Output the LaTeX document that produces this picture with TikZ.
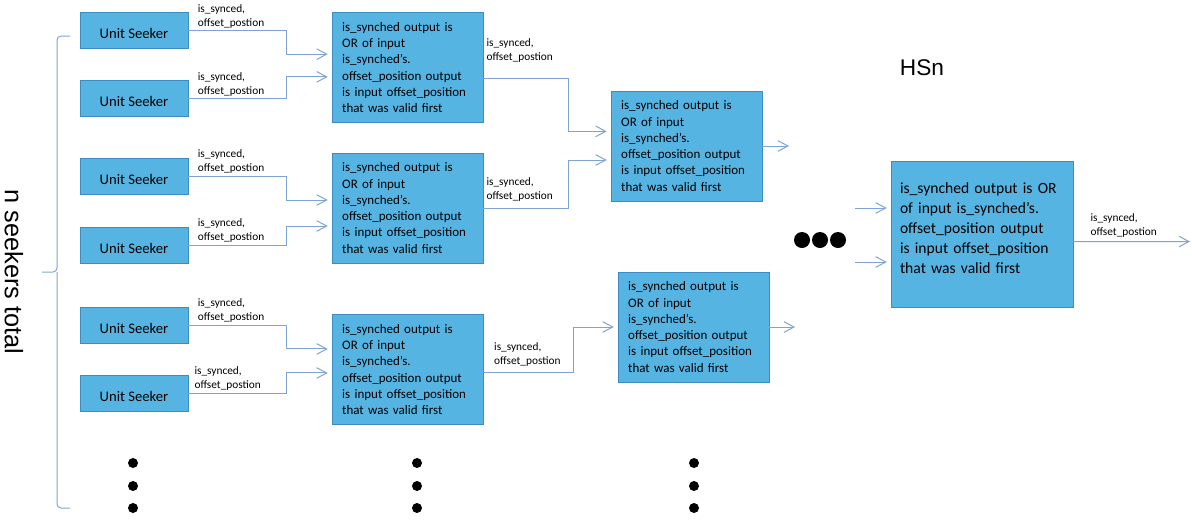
\documentclass[tikz,border=0pt]{standalone}
\usepackage{fontspec}
\setmainfont{Carlito}
\newfontfamily\arialfont{Liberation Sans}
\usetikzlibrary{arrows.meta,positioning,calc}
\definecolor{seekfill}{RGB}{86,180,227}
\definecolor{seekdraw}{RGB}{60,140,192}
\definecolor{wireblue}{RGB}{128,163,214}
\tikzset{
  unitbox/.style={draw=seekdraw, fill=seekfill, minimum width=81pt, minimum height=27pt, inner sep=0pt, text height=12pt, text depth=0pt, font=\fontsize{11}{13}\selectfont},
  orbox/.style={draw=seekdraw, fill=seekfill, minimum width=113.25pt, minimum height=82.5pt, align=left, text width=98pt, inner xsep=7.5pt, font=\fontsize{9.75}{12.2}\selectfont},
  bigbox/.style={draw=seekdraw, fill=seekfill, minimum width=136.5pt, minimum height=109.5pt, align=left, text width=123pt, inner xsep=6.75pt, font=\fontsize{11.7}{15}\selectfont},
  siglabel/.style={align=left, inner sep=0pt, font=\fontsize{8.5}{10.5}\selectfont},
  wire/.style={draw=wireblue, line width=0.75pt, -{Straight Barb[length=7.5pt,width=8pt]}, shorten >=3pt},
  bracewire/.style={draw=wireblue, line width=0.75pt, rounded corners=3pt}
}
\begin{document}
\begin{tikzpicture}[x=0.75pt, y=-0.75pt]
\useasboundingbox (0,0) rectangle (1192,519);
% seekers
\node[unitbox] (us1) at (134,30.5) {Unit Seeker};
\node[unitbox] (us2) at (134,98.5) {Unit Seeker};
\node[unitbox] (us3) at (134,176) {Unit Seeker};
\node[unitbox] (us4) at (134,245) {Unit Seeker};
\node[unitbox] (us5) at (134,325) {Unit Seeker};
\node[unitbox] (us6) at (134,393) {Unit Seeker};
% first stage
\node[orbox] (b1) at (407.5,67.5) {is\_synched output is\\OR of input\\is\_synched's.\\offset\_position output\\is input offset\_position\\that was valid first};
\node[orbox] (b2) at (407.5,208) {is\_synched output is\\OR of input\\is\_synched's.\\offset\_position output\\is input offset\_position\\that was valid first};
\node[orbox] (b3) at (407.5,369.5) {is\_synched output is\\OR of input\\is\_synched's.\\offset\_position output\\is input offset\_position\\that was valid first};
% second stage
\node[orbox] (c1) at (686.5,146) {is\_synched output is\\OR of input\\is\_synched's.\\offset\_position output\\is input offset\_position\\that was valid first};
\node[orbox] (c2) at (693.5,327) {is\_synched output is\\OR of input\\is\_synched's.\\offset\_position output\\is input offset\_position\\that was valid first};
% last stage
\node[bigbox] (hs) at (982,234.5) {is\_synched output is OR\\of input is\_synched's.\\offset\_position output\\is input offset\_position\\that was valid first\\[-6pt]\mbox{}};
\node[font=\arialfont\fontsize{17}{20}\selectfont] (hsname) at (922,68) {HSn};
\node[rotate=-90, font=\arialfont\fontsize{19}{22}\selectfont] (ntotal) at (14,272) {n seekers total};
\coordinate (c1out) at (793,146);
\coordinate (c2out) at (799,327);
\coordinate (din1) at (855,208);
\coordinate (din2) at (855,262);
\coordinate (hsout) at (1194,241.5);
% wires
\draw[wire] (us1.east) -- ++(98,0) |- ([yshift=10pt]b1.west);
\draw[wire] (us2.east) -- ++(98,0) |- ([yshift=-7pt]b1.west);
\draw[wire] (us3.east) -- ++(98,0) |- ([yshift=6pt]b2.west);
\draw[wire] (us4.east) -- ++(98,0) |- ([yshift=-13.5pt]b2.west);
\draw[wire] (us5.east) -- ++(98,0) |- ([yshift=15.4pt]b3.west);
\draw[wire] (us6.east) -- ++(98,0) |- ([yshift=-2.6pt]b3.west);
\draw[wire] ([yshift=-8pt]b1.east) -- ++(85,0) |- ([yshift=11pt]c1.west);
\draw[wire] (b2.east) -- ++(85,0) |- ([yshift=-10.5pt]c1.west);
\draw[wire] ([yshift=-2pt]b3.east) -- ++(90,0) |- (c2.west);
\draw[wire] (c1.east) -- (c1out);
\draw[wire] (c2.east) -- (c2out);
\draw[wire] (din1) -- (din1 -| hs.west);
\draw[wire] (din2) -- (din2 -| hs.west);
\draw[wire] ([yshift=-5.3pt]hs.east) -- (hsout);
% labels on wires
\node[siglabel, above right=1.5pt and 7pt of us1.east] (l1) {is\_synced,\\offset\_postion};
\node[siglabel, above right=1.5pt and 7pt of us2.east] (l2) {is\_synced,\\offset\_postion};
\node[siglabel, above right=1.5pt and 7pt of us3.east] (l3) {is\_synced,\\offset\_postion};
\node[siglabel, above right=1.5pt and 7pt of us4.east] (l4) {is\_synced,\\offset\_postion};
\node[siglabel, above right=1.5pt and 7pt of us5.east] (l5) {is\_synced,\\offset\_postion};
\node[siglabel, above right=1.5pt and 4.5pt of us6.east] (l6) {is\_synced,\\offset\_postion};
\node[siglabel, above right=4pt and 2.25pt of b1.east] (l7) {is\_synced,\\offset\_postion};
\node[siglabel, above right=5pt and 2.25pt of b2.east] (l8) {is\_synced,\\offset\_postion};
\node[siglabel, above right=2pt and 8pt of b3.east] (l9) {is\_synced,\\offset\_postion};
\node[siglabel, above right=-2pt and 12.75pt of hs.east] (l10) {is\_synced,\\offset\_postion};
% brace
\draw[bracewire] (70,36) -| (57,272) -- (42,272);
\draw[bracewire] (70,508) -| (57,272);
% dots
\foreach \x in {133,417,694}
  \foreach \y in {463,486,508}
    \fill (\x,\y) circle (3.75pt);
\foreach \x in {802,820,838}
  \fill (\x,240) circle (6pt);
\end{tikzpicture}
\end{document}
